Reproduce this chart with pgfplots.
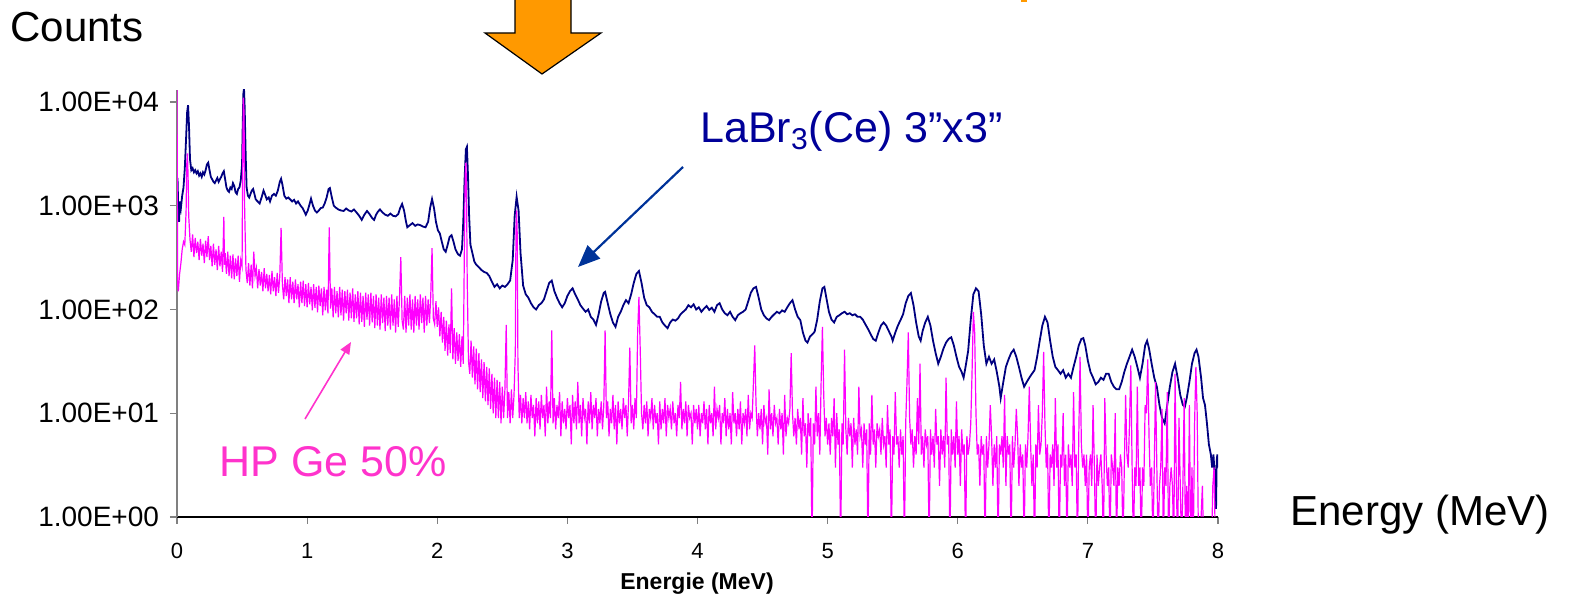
\documentclass[border=0pt]{standalone}
\usepackage{pgfplots}
\pgfplotsset{compat=1.18}
\usepackage{fontspec}
\setmainfont{Liberation Sans}
\usetikzlibrary{arrows.meta}

\definecolor{labrline}{HTML}{000080}
\definecolor{labrtext}{HTML}{000099}
\definecolor{labrarrow}{HTML}{003399}
\definecolor{geline}{HTML}{FF00FF}
\definecolor{getext}{HTML}{FF33CC}
\definecolor{bigarrow}{HTML}{FF9900}

\begin{document}
\begin{tikzpicture}[x=0.5pt,y=-0.5pt]
\useasboundingbox (0,0) rectangle (1572,597);
\coordinate (corner) at (177,517);

% headline arrow and annotations
\filldraw[fill=bigarrow, draw=black, line width=0.6pt]
  (515,0) -- (515,33) -- (485,33) -- (542,74) -- (601,33) -- (571,33) -- (571,0);
\fill[bigarrow] (1021,0) rectangle (1027,2);

\node[anchor=base west, inner sep=0pt, font=\fontsize{21}{25}\selectfont] at (10,42) {Counts};
\node[anchor=base west, inner sep=0pt, font=\fontsize{21}{25}\selectfont] at (1290,526) {Energy (MeV)};

\begin{axis}[
    at={(corner)}, anchor=south west,
    scale only axis,
    width=520.5pt, height=213.5pt,
    xmin=0, xmax=8,
    ymode=log, ymin=1, ymax=13050,
    axis x line=bottom, axis y line=left,
    axis line style={-},
    x axis line style={black, line width=0.65pt},
    y axis line style={gray, line width=0.65pt},
    xtick={0,1,...,8},
    xticklabels={0,1,2,3,4,5,6,7,8},
    ytick={1,10,100,1000,10000},
    yticklabels={1.00E+00,1.00E+01,1.00E+02,1.00E+03,1.00E+04},
    yminorticks=false, xminorticks=false,
    tick align=outside,
    major tick length=3.5pt,
    major tick style={gray, line width=0.6pt},
    yticklabel style={font=\fontsize{14}{16}\selectfont, xshift=-2pt},
    xticklabel style={font=\fontsize{11}{13}\selectfont, yshift=-6pt},
    /pgf/number format/assume math mode=true,
    clip=true,
]
% LaBr3(Ce) 3"x3"
\addplot[labrline, line width=0.9pt] coordinates {
(0.004,1850)(0.010,900)(0.016,700)(0.022,1100)(0.030,950)(0.040,1250)(0.050,1500)(0.060,2300)(0.070,4500)(0.078,8000)(0.085,9300)(0.092,6000)(0.100,2800)(0.110,2200)(0.120,2300)(0.130,2100)(0.140,2200)(0.150,2050)(0.160,2150)(0.170,1950)(0.180,2050)(0.190,1900)(0.200,2100)(0.210,2000)(0.220,2200)(0.230,2500)(0.240,2600)(0.250,2200)(0.260,1900)(0.270,1800)(0.280,1700)(0.290,1650)(0.300,1750)(0.310,1850)(0.320,1700)(0.330,1800)(0.340,1900)(0.350,2050)(0.360,2150)(0.370,1800)(0.380,1500)(0.390,1400)(0.400,1360)(0.410,1500)(0.420,1450)(0.430,1650)(0.440,1550)(0.450,1350)(0.460,1300)(0.470,1450)(0.480,1500)(0.490,1750)(0.500,2500)(0.505,6000)(0.510,12000)(0.515,13500)(0.520,9000)(0.528,3000)(0.535,1500)(0.545,1250)(0.555,1200)(0.565,1300)(0.575,1400)(0.585,1450)(0.595,1300)(0.605,1150)(0.620,1100)(0.635,1050)(0.650,1200)(0.665,1400)(0.675,1300)(0.690,1150)(0.705,1200)(0.715,1100)(0.730,1250)(0.745,1300)(0.760,1250)(0.775,1400)(0.790,1700)(0.800,1820)(0.810,1600)(0.825,1250)(0.840,1170)(0.855,1200)(0.870,1150)(0.885,1100)(0.900,1140)(0.915,1050)(0.930,1100)(0.950,1000)(0.965,950)(0.980,870)(0.990,820)(1.005,900)(1.020,1050)(1.030,1170)(1.045,1000)(1.060,900)(1.075,860)(1.090,900)(1.105,950)(1.120,960)(1.135,1050)(1.150,1200)(1.165,1450)(1.175,1480)(1.190,1200)(1.205,1000)(1.220,960)(1.240,920)(1.260,900)(1.280,890)(1.300,940)(1.320,900)(1.340,880)(1.360,920)(1.380,860)(1.400,800)(1.420,730)(1.440,820)(1.460,890)(1.480,830)(1.500,760)(1.515,730)(1.530,820)(1.545,880)(1.560,920)(1.580,860)(1.600,820)(1.620,800)(1.640,840)(1.660,800)(1.680,790)(1.700,830)(1.715,950)(1.730,1040)(1.745,900)(1.760,700)(1.770,620)(1.790,650)(1.810,680)(1.830,640)(1.850,660)(1.870,650)(1.890,630)(1.910,620)(1.930,700)(1.945,950)(1.960,1160)(1.975,950)(1.990,700)(2.005,580)(2.020,540)(2.035,450)(2.050,380)(2.065,360)(2.080,420)(2.095,500)(2.110,520)(2.125,450)(2.140,380)(2.160,340)(2.175,330)(2.190,380)(2.200,700)(2.210,1800)(2.220,3500)(2.228,3700)(2.236,2000)(2.245,800)(2.255,420)(2.270,350)(2.285,290)(2.300,270)(2.320,255)(2.340,240)(2.360,230)(2.380,225)(2.400,210)(2.420,185)(2.440,165)(2.460,175)(2.480,160)(2.500,170)(2.520,165)(2.540,175)(2.560,190)(2.580,300)(2.595,800)(2.610,1220)(2.625,900)(2.640,350)(2.660,170)(2.680,140)(2.700,130)(2.720,115)(2.740,105)(2.760,100)(2.780,110)(2.800,115)(2.820,125)(2.840,150)(2.860,180)(2.880,190)(2.900,150)(2.920,130)(2.940,115)(2.960,105)(2.980,115)(3.000,135)(3.020,150)(3.040,160)(3.060,140)(3.080,125)(3.100,110)(3.120,102)(3.140,95)(3.160,100)(3.180,85)(3.200,80)(3.220,71)(3.240,90)(3.260,120)(3.280,145)(3.290,148)(3.310,115)(3.330,90)(3.350,75)(3.370,68)(3.390,85)(3.410,95)(3.430,110)(3.450,123)(3.470,115)(3.490,140)(3.510,180)(3.530,220)(3.550,235)(3.570,180)(3.590,130)(3.610,110)(3.630,105)(3.650,95)(3.670,90)(3.690,85)(3.710,85)(3.730,75)(3.750,70)(3.770,66)(3.790,75)(3.810,80)(3.830,78)(3.850,82)(3.870,90)(3.890,95)(3.910,100)(3.930,110)(3.950,105)(3.970,112)(3.990,100)(4.010,105)(4.030,95)(4.050,102)(4.070,108)(4.090,99)(4.110,104)(4.130,95)(4.150,110)(4.170,115)(4.190,100)(4.210,92)(4.230,88)(4.250,95)(4.270,85)(4.290,79)(4.310,88)(4.330,92)(4.350,95)(4.370,100)(4.390,120)(4.410,145)(4.430,160)(4.450,165)(4.470,130)(4.490,100)(4.510,88)(4.530,82)(4.550,79)(4.570,85)(4.590,90)(4.610,95)(4.630,92)(4.650,98)(4.670,95)(4.690,105)(4.710,115)(4.730,123)(4.750,100)(4.770,85)(4.790,79)(4.810,60)(4.830,50)(4.845,48)(4.865,55)(4.885,58)(4.900,61)(4.920,80)(4.940,120)(4.960,160)(4.975,165)(4.990,130)(5.010,95)(5.030,80)(5.050,75)(5.070,85)(5.090,88)(5.110,92)(5.130,95)(5.150,90)(5.170,92)(5.190,88)(5.210,90)(5.230,85)(5.250,85)(5.270,80)(5.290,72)(5.310,65)(5.330,58)(5.350,52)(5.370,50)(5.390,60)(5.410,70)(5.430,75)(5.450,70)(5.470,62)(5.490,55)(5.500,50)(5.520,60)(5.540,70)(5.560,79)(5.580,90)(5.600,115)(5.620,135)(5.640,144)(5.660,110)(5.680,75)(5.700,55)(5.715,50)(5.730,62)(5.750,75)(5.770,85)(5.790,70)(5.810,50)(5.830,38)(5.850,30)(5.870,35)(5.890,42)(5.910,48)(5.930,52)(5.950,54)(5.970,45)(5.990,35)(6.010,28)(6.030,25)(6.045,22)(6.060,28)(6.080,40)(6.100,80)(6.120,140)(6.140,160)(6.160,150)(6.180,90)(6.200,45)(6.220,30)(6.240,35)(6.260,30)(6.280,33)(6.300,25)(6.320,18)(6.330,14)(6.350,20)(6.370,28)(6.390,33)(6.410,38)(6.430,41)(6.450,35)(6.470,28)(6.490,22)(6.510,18)(6.530,20)(6.550,22)(6.570,24)(6.590,26)(6.610,35)(6.630,50)(6.650,70)(6.670,85)(6.690,75)(6.710,50)(6.730,35)(6.750,28)(6.770,26)(6.790,24)(6.810,26)(6.830,22)(6.850,24)(6.870,22)(6.890,28)(6.910,35)(6.930,45)(6.950,52)(6.965,53)(6.980,45)(7.000,32)(7.020,25)(7.040,22)(7.060,19)(7.080,20)(7.100,22)(7.120,21)(7.140,24)(7.160,24)(7.180,20)(7.200,18)(7.220,17)(7.240,17)(7.260,20)(7.280,25)(7.300,30)(7.320,35)(7.340,41)(7.360,35)(7.380,28)(7.400,22)(7.420,30)(7.440,45)(7.455,50)(7.470,42)(7.490,30)(7.510,22)(7.530,18)(7.550,12)(7.570,9)(7.590,8)(7.610,12)(7.630,18)(7.650,25)(7.670,30)(7.690,22)(7.710,15)(7.730,12)(7.745,11.5)(7.760,14)(7.780,20)(7.800,30)(7.820,38)(7.835,41)(7.850,35)(7.870,22)(7.885,14)(7.900,12)(7.915,8)(7.930,5)(7.945,4)(7.955,3)(7.965,4)(7.975,2.5)(7.985,1.2)(7.990,3.5)(7.995,4)(8.000,3)
};
% HP Ge 50%
\addplot[geline, line width=0.6pt] coordinates {
(0.00,13000)(0.005,180)(0.01,150)(0.02,220)(0.03,280)(0.04,380)(0.05,450)(0.06,420)(0.07,900)(0.075,2500)(0.08,3200)(0.085,2000)(0.09,800)
(0.10,470)(0.11,360)(0.12,530)(0.13,320)(0.14,490)(0.15,350)(0.16,450)(0.17,300)(0.18,480)(0.19,330)
(0.20,430)(0.21,280)(0.22,460)(0.23,320)(0.24,510)(0.25,300)(0.26,410)(0.27,260)(0.28,430)(0.29,270)
(0.30,380)(0.31,240)(0.32,410)(0.33,260)(0.34,360)(0.35,230)(0.36,780)(0.365,270)(0.37,350)(0.38,220)(0.39,360)
(0.40,210)(0.41,330)(0.42,200)(0.43,340)(0.44,195)(0.45,310)(0.46,210)(0.47,330)(0.48,185)(0.49,300)
(0.50,260)(0.505,3000)(0.51,11000)(0.515,8000)(0.52,900)(0.53,240)(0.54,180)(0.55,280)(0.56,170)(0.57,270)(0.58,160)(0.59,360)
(0.60,210)(0.61,250)(0.62,160)(0.63,245)(0.64,170)(0.65,230)(0.66,150)(0.67,250)(0.68,160)(0.69,220)
(0.70,150)(0.71,215)(0.72,140)(0.73,235)(0.74,150)(0.75,205)(0.76,135)(0.77,225)(0.78,145)(0.79,210)
(0.80,610)(0.81,175)(0.82,125)(0.83,205)(0.84,135)(0.85,195)(0.86,115)(0.87,205)(0.88,125)(0.89,185)
(0.90,115)(0.91,195)(0.92,125)(0.93,175)(0.94,105)(0.95,185)(0.96,115)(0.97,190)(0.98,108)(0.99,175)
(1.00,105)(1.01,180)(1.02,112)(1.03,165)(1.04,98)(1.05,175)(1.06,104)(1.07,165)(1.08,94)(1.09,170)
(1.10,108)(1.11,160)(1.12,88)(1.13,165)(1.14,98)(1.15,155)(1.16,92)(1.17,620)(1.18,102)(1.19,160)
(1.20,84)(1.21,165)(1.22,92)(1.23,150)(1.24,84)(1.25,165)(1.26,88)(1.27,155)(1.28,78)(1.29,150)
(1.30,92)(1.31,155)(1.32,78)(1.33,145)(1.34,82)(1.35,160)(1.36,76)(1.37,140)(1.38,82)(1.39,150)
(1.40,72)(1.41,145)(1.42,76)(1.43,135)(1.44,68)(1.45,145)(1.46,80)(1.47,140)(1.48,70)(1.49,145)
(1.50,75)(1.51,135)(1.52,66)(1.53,140)(1.54,70)(1.55,130)(1.56,64)(1.57,140)(1.58,74)(1.59,130)
(1.60,62)(1.61,135)(1.62,70)(1.63,130)(1.64,64)(1.65,140)(1.66,70)(1.67,125)(1.68,60)(1.69,135)
(1.70,68)(1.71,130)(1.72,320)(1.73,78)(1.74,64)(1.75,135)(1.76,60)(1.77,130)(1.78,70)(1.79,140)
(1.80,64)(1.81,125)(1.82,60)(1.83,135)(1.84,70)(1.85,125)(1.86,64)(1.87,140)(1.88,74)(1.89,130)
(1.90,60)(1.91,135)(1.92,70)(1.93,125)(1.94,74)(1.95,135)(1.96,390)(1.97,82)(1.98,72)(1.99,120)
(2.00,68)(2.01,105)(2.02,55)(2.03,95)(2.04,48)(2.05,85)(2.06,40)(2.07,78)(2.08,36)(2.09,72)
(2.10,38)(2.11,160)(2.12,33)(2.13,66)(2.14,30)(2.15,60)(2.16,32)(2.17,58)(2.18,28)(2.19,55)
(2.20,30)(2.21,600)(2.215,2000)(2.22,2600)(2.225,1500)(2.23,200)(2.24,32)(2.25,24)(2.26,50)(2.27,22)(2.28,44)(2.29,19)
(2.30,42)(2.31,17)(2.32,38)(2.33,16)(2.34,33)(2.35,14)(2.36,31)(2.37,13)(2.38,28)(2.39,12)
(2.40,27)(2.41,11)(2.42,24)(2.43,10)(2.44,22)(2.45,9)(2.46,21)(2.47,9)(2.48,20)(2.49,8)
(2.50,18)(2.51,9)(2.52,17)(2.53,71)(2.54,9)(2.55,16)(2.56,8)(2.57,17)(2.58,9)(2.59,15)
(2.60,40)(2.605,600)(2.61,900)(2.615,500)(2.62,30)(2.63,9)(2.64,15)(2.65,8)(2.66,14)(2.67,9)(2.68,16)(2.69,8)
(2.70,13)(2.71,7)(2.72,15)(2.73,9)(2.74,12)(2.75,6)(2.76,14)(2.77,8)(2.78,13)(2.79,7)
(2.80,15)(2.81,9)(2.82,12)(2.83,6)(2.84,18)(2.85,8)(2.86,13)(2.87,9)(2.88,63)(2.89,8)
(2.90,14)(2.91,7)(2.92,12)(2.93,9)(2.94,16)(2.95,6)(2.96,13)(2.97,8)(2.98,11)(2.99,7)
(3.00,14)(3.01,9)(3.02,12)(3.03,5)(3.04,15)(3.05,8)(3.06,13)(3.07,7)(3.08,20)(3.09,8)
(3.10,12)(3.11,6)(3.12,14)(3.13,9)(3.14,11)(3.15,5)(3.16,13)(3.17,8)(3.18,16)(3.19,7)
(3.20,12)(3.21,9)(3.22,14)(3.23,6)(3.24,11)(3.25,8)(3.26,13)(3.27,7)(3.28,12)(3.29,63)
(3.30,9)(3.31,13)(3.32,6)(3.33,11)(3.34,8)(3.35,15)(3.36,7)(3.37,12)(3.38,5)(3.39,13)
(3.40,8)(3.41,11)(3.42,7)(3.43,14)(3.44,9)(3.45,12)(3.46,6)(3.47,13)(3.48,43)(3.49,8)
(3.50,12)(3.51,7)(3.52,14)(3.53,9)(3.54,60)(3.55,132)(3.56,40)(3.57,10)(3.58,7)(3.59,12)
(3.60,8)(3.61,13)(3.62,6)(3.63,11)(3.64,9)(3.65,14)(3.66,7)(3.67,12)(3.68,8)(3.69,10)
(3.70,5)(3.71,13)(3.72,7)(3.73,11)(3.74,8)(3.75,14)(3.76,6)(3.77,12)(3.78,9)(3.79,11)
(3.80,7)(3.81,13)(3.82,8)(3.83,10)(3.84,6)(3.85,12)(3.86,9)(3.87,20)(3.88,7)(3.89,11)
(3.90,8)(3.91,13)(3.92,6)(3.93,12)(3.94,9)(3.95,10)(3.96,5)(3.97,12)(3.98,8)(3.99,11)
(4.00,7)(4.01,12)(4.02,6)(4.03,10)(4.04,8)(4.05,13)(4.06,7)(4.07,11)(4.08,5)(4.09,12)
(4.10,8)(4.11,10)(4.12,6)(4.13,18)(4.14,7)(4.15,11)(4.16,9)(4.17,12)(4.18,5)(4.19,10)
(4.20,8)(4.21,14)(4.22,6)(4.23,11)(4.24,7)(4.25,10)(4.26,5)(4.27,16)(4.28,8)(4.29,10)
(4.30,6)(4.31,11)(4.32,7)(4.33,13)(4.34,5)(4.35,10)(4.36,8)(4.37,11)(4.38,6)(4.39,15)
(4.40,7)(4.41,10)(4.42,9)(4.43,20)(4.44,45)(4.45,12)(4.46,6)(4.47,10)(4.48,7)(4.49,11)
(4.50,5)(4.51,12)(4.52,8)(4.53,9)(4.54,4)(4.55,17)(4.56,7)(4.57,10)(4.58,6)(4.59,12)
(4.60,8)(4.61,9)(4.62,5)(4.63,11)(4.64,7)(4.65,10)(4.66,4)(4.67,15)(4.68,6)(4.69,9)
(4.70,8)(4.71,11)(4.72,38)(4.73,10)(4.74,6)(4.75,9)(4.76,5)(4.77,11)(4.78,7)(4.79,9)
(4.80,4)(4.81,14)(4.82,6)(4.83,8)(4.84,3)(4.85,10)(4.86,6)(4.87,9)(4.88,0.5)(4.89,8)
(4.90,5)(4.91,18)(4.92,6)(4.93,10)(4.94,4)(4.95,20)(4.96,68)(4.97,15)(4.98,6)(4.99,9)
(5.00,5)(5.01,8)(5.02,4)(5.03,9)(5.04,6)(5.05,14)(5.06,3)(5.07,10)(5.08,5)(5.09,7)
(5.10,0.5)(5.11,8)(5.12,5)(5.13,41)(5.14,7)(5.15,4)(5.16,9)(5.17,6)(5.18,8)(5.19,3)
(5.20,9)(5.21,5)(5.22,7)(5.23,4)(5.24,18)(5.25,6)(5.26,7)(5.27,3)(5.28,8)(5.29,5)
(5.30,7)(5.31,0.5)(5.32,8)(5.33,4)(5.34,15)(5.35,5)(5.36,7)(5.37,3)(5.38,8)(5.39,6)
(5.40,7)(5.41,4)(5.42,9)(5.43,5)(5.44,6)(5.45,3)(5.46,12)(5.47,5)(5.48,7)(5.49,0.5)
(5.50,6)(5.51,4)(5.52,16)(5.53,5)(5.54,6)(5.55,3)(5.56,7)(5.57,4)(5.58,6)(5.59,0.5)
(5.60,8)(5.61,20)(5.62,60)(5.63,9)(5.64,5)(5.65,7)(5.66,3)(5.67,6)(5.68,4)(5.69,14)
(5.70,5)(5.71,30)(5.72,4)(5.73,6)(5.74,3)(5.75,7)(5.76,5)(5.77,6)(5.78,0.5)(5.79,7)
(5.80,4)(5.81,6)(5.82,3)(5.83,11)(5.84,5)(5.85,6)(5.86,2)(5.87,7)(5.88,4)(5.89,6)
(5.90,3)(5.91,22)(5.92,5)(5.93,6)(5.94,0.5)(5.95,7)(5.96,4)(5.97,6)(5.98,3)(5.99,13)
(6.00,4)(6.01,6)(6.02,2)(6.03,7)(6.04,4)(6.05,5)(6.06,0.5)(6.07,6)(6.08,4)(6.09,5)
(6.10,8)(6.11,25)(6.12,95)(6.13,60)(6.14,10)(6.15,4)(6.16,5)(6.17,2)(6.18,6)(6.19,4)
(6.20,5)(6.21,0.5)(6.22,6)(6.23,3)(6.24,5)(6.25,12)(6.26,6)(6.27,2)(6.28,5)(6.29,3)
(6.30,6)(6.31,0.5)(6.32,5)(6.33,4)(6.34,6)(6.35,3)(6.36,15)(6.37,2)(6.38,6)(6.39,4)
(6.40,5)(6.41,0.5)(6.42,6)(6.43,3)(6.44,5)(6.45,11)(6.46,6)(6.47,2)(6.48,5)(6.49,3)
(6.50,4)(6.51,0.5)(6.52,5)(6.53,3)(6.54,6)(6.55,18)(6.56,5)(6.57,2)(6.58,4)(6.59,0.5)
(6.60,5)(6.61,3)(6.62,12)(6.63,4)(6.64,5)(6.65,10)(6.66,39)(6.67,8)(6.68,3)(6.69,5)
(6.70,0.5)(6.71,4)(6.72,3)(6.73,5)(6.74,2)(6.75,14)(6.76,3)(6.77,5)(6.78,0.5)(6.79,4)
(6.80,3)(6.81,10)(6.82,2)(6.83,4)(6.84,0.5)(6.85,5)(6.86,3)(6.87,4)(6.88,2)(6.89,16)
(6.90,3)(6.91,4)(6.92,0.5)(6.93,6)(6.94,35)(6.95,5)(6.96,3)(6.97,4)(6.98,2)(6.99,4)
(7.00,0.5)(7.01,3)(7.02,4)(7.03,2)(7.04,12)(7.05,3)(7.06,0.5)(7.07,4)(7.08,2)(7.09,3)
(7.10,4)(7.11,2)(7.12,0.5)(7.13,14)(7.14,4)(7.15,2)(7.16,3)(7.17,0.5)(7.18,4)(7.19,3)
(7.20,2)(7.21,10)(7.22,0.5)(7.23,3)(7.24,2)(7.25,4)(7.26,3)(7.27,0.5)(7.28,3)(7.29,15)
(7.30,4)(7.31,3)(7.32,8)(7.33,29)(7.34,3)(7.35,0.5)(7.36,3)(7.37,2)(7.38,18)(7.39,2)
(7.40,3)(7.41,0.5)(7.42,3)(7.43,2)(7.44,12)(7.45,10)(7.46,33)(7.47,6)(7.48,2)(7.49,3)
(7.50,0.5)(7.51,3)(7.52,20)(7.53,3)(7.54,0.5)(7.55,2)(7.56,3)(7.57,11)(7.58,0.5)(7.59,3)
(7.60,2)(7.61,16)(7.62,0.5)(7.63,2)(7.64,3)(7.65,2)(7.66,0.5)(7.67,24)(7.68,2)(7.69,0.5)
(7.70,9)(7.71,2)(7.72,0.5)(7.73,2)(7.74,14)(7.75,0.5)(7.76,2)(7.77,0.5)(7.78,12)(7.79,0.5)
(7.80,3)(7.81,0.5)(7.82,8)(7.83,28)(7.84,10)(7.85,0.5)(7.86,0.5)(7.88,2)(7.89,0.5)(7.92,0.5)
(7.95,0.5)(7.96,2)(7.97,3)(7.98,0.5)(8.00,0.5)
};
\end{axis}

\node[anchor=base, inner sep=0pt, font=\bfseries\fontsize{11.5}{13}\selectfont] at (697,589) {Energie (MeV)};

\node[anchor=base west, inner sep=0pt, text=labrtext, font=\fontsize{21.5}{25}\selectfont] at (700,143) {LaBr\textsubscript{3}(Ce) 3”x3”};
\draw[labrarrow, line width=1.1pt, -{Triangle[length=11pt,width=9pt]}] (683,167) -- (578,267);

\node[anchor=base west, inner sep=0pt, text=getext, font=\fontsize{21.5}{25}\selectfont] at (219,477) {HP Ge 50\%};
\draw[getext, line width=0.8pt, -{Triangle[length=6pt,width=5pt]}] (305,419) -- (351,342);
\end{tikzpicture}
\end{document}
